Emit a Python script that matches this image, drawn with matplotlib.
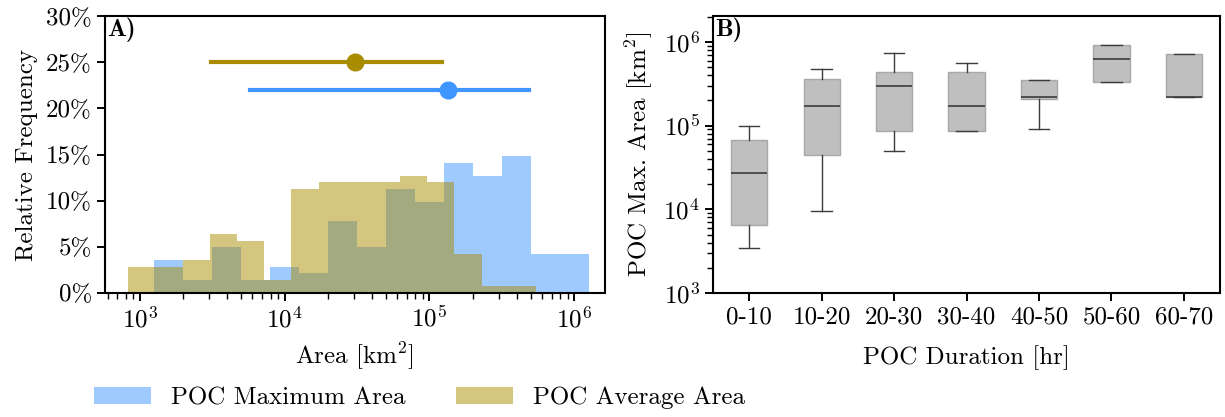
import numpy as np
import matplotlib
matplotlib.use("Agg")
matplotlib.rcParams["font.family"] = "serif"
matplotlib.rcParams["font.serif"] = ["cmr10", "DejaVu Serif"]
matplotlib.rcParams["mathtext.fontset"] = "cm"
matplotlib.rcParams["axes.formatter.use_mathtext"] = True
matplotlib.rcParams["font.size"] = 18
matplotlib.rcParams["axes.linewidth"] = 1.5
for ax_ in ("xtick", "ytick"):
    matplotlib.rcParams[f"{ax_}.major.size"] = 6
    matplotlib.rcParams[f"{ax_}.major.width"] = 1.4
    matplotlib.rcParams[f"{ax_}.minor.size"] = 4
    matplotlib.rcParams[f"{ax_}.minor.width"] = 1.0
import matplotlib.pyplot as plt
from matplotlib.patches import Patch

# panel A: histograms of log10(area), counts per bin (N=142)
max_edges_log = np.linspace(3.1, 6.1, 16)
max_counts = [5, 2, 7, 2, 4, 3, 11, 7, 16, 14, 20, 18, 21, 6, 6]
avg_edges_log = np.linspace(2.922, 5.734, 16)
avg_counts = [4, 4, 5, 9, 8, 2, 16, 17, 17, 17, 18, 17, 6, 1, 1]
n_total = 142

# panel A: median and range markers
avg_mid, avg_lo, avg_hi, avg_y = 3.07e4, 3.1e3, 1.22e5, 25
max_mid, max_lo, max_hi, max_y = 1.35e5, 5.8e3, 4.83e5, 22

# panel B: box stats per duration bin
dur_labels = ["0-10", "10-20", "20-30", "30-40", "40-50", "50-60", "60-70"]
whislo = [3.47e3, 9.66e3, 4.97e4, 8.6e4, 9.18e4, 3.33e5, 2.19e5]
q1 = [6.5e3, 4.46e4, 8.53e4, 8.6e4, 2.11e5, 3.33e5, 2.19e5]
med = [2.69e4, 1.74e5, 3.01e5, 1.73e5, 2.23e5, 6.21e5, 2.19e5]
q3 = [6.8e4, 3.59e5, 4.43e5, 4.43e5, 3.52e5, 9.29e5, 7.19e5]
whishi = [9.86e4, 4.76e5, 7.32e5, 5.67e5, 3.52e5, 9.29e5, 7.19e5]

BLUE = "#4096ff"
GOLD = "#aa8c00"

fig = plt.figure(figsize=(12.25, 4.17), dpi=100)
axA = fig.add_axes([0.0857, 0.2974, 0.408, 0.664])
axB = fig.add_axes([0.582, 0.2974, 0.414, 0.664])

# ---- A
for edges_log, counts, col in [(max_edges_log, max_counts, BLUE),
                               (avg_edges_log, avg_counts, GOLD)]:
    edges = 10 ** edges_log
    centers = np.sqrt(edges[:-1] * edges[1:])
    w = np.array(counts) / n_total * 100
    axA.hist(centers, bins=edges, weights=w, color=col, alpha=0.5)

axA.plot([avg_lo, avg_hi], [avg_y, avg_y], color=GOLD, lw=3)
axA.plot([avg_mid], [avg_y], "o", color=GOLD, ms=12)
axA.plot([max_lo, max_hi], [max_y, max_y], color=BLUE, lw=3)
axA.plot([max_mid], [max_y], "o", color=BLUE, ms=12)

axA.set_xscale("log")
axA.set_xlim(10 ** 2.76, 10 ** 6.21)
axA.set_ylim(0, 30)
axA.set_yticks(range(0, 31, 5))
axA.set_yticklabels([f"{v}%" for v in range(0, 31, 5)])
axA.set_xlabel("Area [km$^2$]", labelpad=6)
axA.set_ylabel("Relative Frequency", labelpad=6)
axA.text(0.005, 0.995, "A)", transform=axA.transAxes, family="cmb10",
         ha="left", va="top", fontsize=18)

fig.legend(handles=[Patch(facecolor=BLUE, alpha=0.5, label="POC Maximum Area"),
                    Patch(facecolor=GOLD, alpha=0.5, label="POC Average Area")],
           loc="lower left", bbox_to_anchor=(0.058, -0.035), ncol=2,
           frameon=False, fontsize=18, handlelength=2.3, columnspacing=2.0)

# ---- B
stats = []
for i in range(len(dur_labels)):
    stats.append(dict(med=med[i], q1=q1[i], q3=q3[i], whislo=whislo[i],
                      whishi=whishi[i], fliers=[], label=dur_labels[i]))
axB.bxp(stats, widths=0.5, patch_artist=True, showfliers=False,
        boxprops=dict(facecolor="#bfbfbf", edgecolor="#a8a8a8", lw=1),
        medianprops=dict(color="#3c3c3c", lw=1.2),
        whiskerprops=dict(color="#3c3c3c", lw=1),
        capprops=dict(color="#3c3c3c", lw=1), capwidths=0.28)
axB.set_yscale("log")
axB.set_ylim(1e3, 2.04e6)
axB.set_xlim(0.5, 7.5)
axB.set_xlabel("POC Duration [hr]", labelpad=12)
axB.set_ylabel("POC Max. Area [km$^2$]", labelpad=6)
axB.text(0.005, 0.995, "B)", transform=axB.transAxes, family="cmb10",
         ha="left", va="top", fontsize=18)

fig.savefig("out.png", dpi=100)
